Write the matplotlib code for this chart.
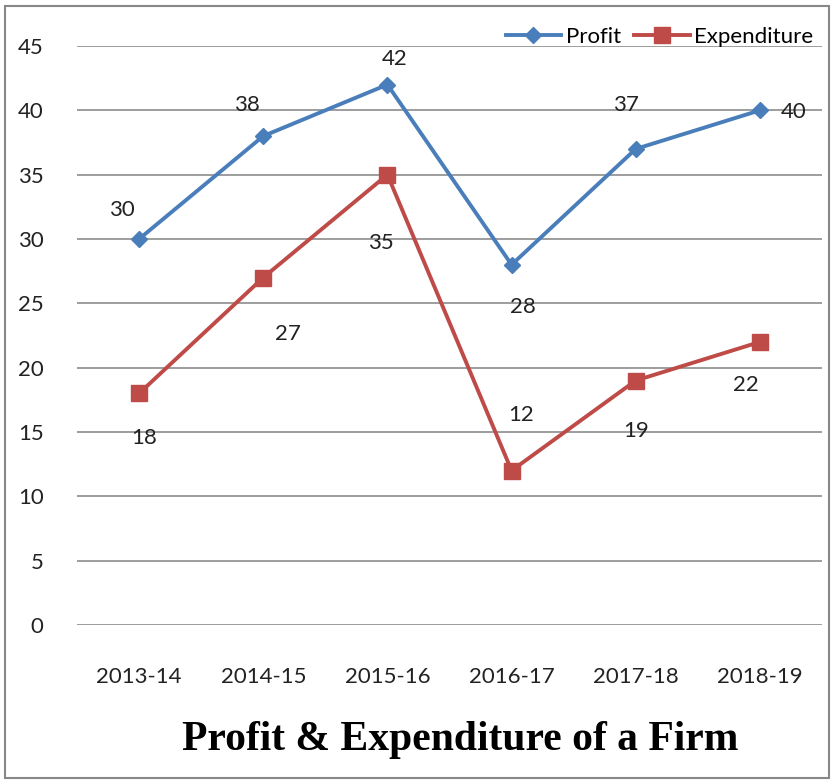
import matplotlib
matplotlib.use("Agg")
import matplotlib.pyplot as plt
from matplotlib.patches import Rectangle

years = ["2013-14", "2014-15", "2015-16", "2016-17", "2017-18", "2018-19"]
profit = [30, 38, 42, 28, 37, 40]
expenditure = [18, 27, 35, 12, 19, 22]
yticks = [0, 5, 10, 15, 20, 25, 30, 35, 40, 45]

# label offsets in pixels (dx, dy), dy positive = up
profit_off = [(-17, 29), (-16, 31), (7, 26), (11, -42), (-10, 44), (34, -2)]
exp_off = [(5, -45), (25, -56), (-7, -68), (9, 56), (0, -50), (-14, -43)]

W, H = 835, 784
fig = plt.figure(figsize=(W / 100, H / 100), dpi=100)
ax = fig.add_axes([77 / W, 1 - 625 / H, (822 - 77) / W, (625 - 46) / H])

blue = "#4A7EBB"
red = "#BE4B48"
tickfont = ["Lato", "DejaVu Sans"]
fs = 16

x = [i + 0.5 for i in range(len(years))]
ax.plot(x, profit, color=blue, lw=2.8, marker="D", ms=8, label="Profit", zorder=3)
ax.plot(x, expenditure, color=red, lw=2.8, marker="s", ms=11, label="Expenditure", zorder=3)

for xi, v, (dx, dy) in zip(x, profit, profit_off):
    ax.annotate(str(v), (xi, v), xytext=(dx * 0.72, dy * 0.72), textcoords="offset points",
                ha="center", va="center", fontsize=fs, family=tickfont, color="#222222")
for xi, v, (dx, dy) in zip(x, expenditure, exp_off):
    ax.annotate(str(v), (xi, v), xytext=(dx * 0.72, dy * 0.72), textcoords="offset points",
                ha="center", va="center", fontsize=fs, family=tickfont, color="#222222")

ax.set_xlim(0, len(years))
ax.set_ylim(0, 45)
ax.set_yticks(yticks)
ax.set_yticklabels([str(t) for t in yticks], fontsize=fs, family=tickfont, color="#222222")
ax.set_xticks(x)
ax.set_xticklabels(years, fontsize=fs, family=tickfont, color="#222222")
ax.tick_params(length=0, pad=24, axis="y")
ax.tick_params(length=0, pad=30, axis="x")
ax.grid(axis="y", color="#8c8c8c", lw=1.2)
ax.set_axisbelow(True)
for s in ax.spines.values():
    s.set_visible(False)

fig.legend(loc="center right", bbox_to_anchor=(822 / W, 1 - 37 / H), frameon=False,
           ncol=2, prop={"family": tickfont, "size": fs}, handlelength=2.5,
           columnspacing=0.6, handletextpad=0.2, borderaxespad=0)

fig.text(460 / W, 1 - 740 / H, "Profit & Expenditure of a Firm", ha="center", va="center",
         fontsize=30, fontweight="bold", family="Liberation Serif", color="black")

fig.add_artist(Rectangle((5 / W, 6 / H), (829 - 5) / W, (778 - 6) / H, transform=fig.transFigure,
                         fill=False, edgecolor="#888888", lw=1.5))

fig.savefig("out.png", dpi=100)
